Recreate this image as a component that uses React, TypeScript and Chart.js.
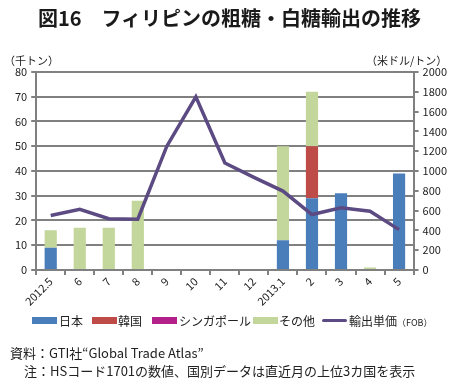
import React, { useEffect, useRef } from "react";
import { Chart, registerables } from "chart.js";

Chart.register(...registerables);

const categories = ["2012.5", "6", "7", "8", "9", "10", "11", "12", "2013.1", "2", "3", "4", "5"];
const japan = [9, 0, 0, 0, 0, 0, 0, 0, 12, 29, 31, 0, 39];
const korea = [0, 0, 0, 0, 0, 0, 0, 0, 0, 21, 0, 0, 0];
const singapore = [0, 0, 0, 0, 0, 0, 0, 0, 0, 0, 0, 0, 0];
const others = [7, 17, 17, 28, 0, 0, 0, 0, 38, 22, 0, 1, 0];
const unitPrice = [550, 612, 518, 512, 1250, 1750, 1080, 935, 797, 560, 627, 593, 407];

const FONT = "'Noto Sans CJK JP', 'Noto Sans', sans-serif";

const legendItems = [
  { label: "日本", color: "#4A7EBB", type: "box", x: 32, tx: 59 },
  { label: "韓国", color: "#BE4B48", type: "box", x: 92, tx: 118 },
  { label: "シンガポール", color: "#B3208A", type: "box", x: 152, tx: 179 },
  { label: "その他", color: "#C3D69B", type: "box", x: 253, tx: 279 },
  { label: "輸出単価", color: "#5C4A82", type: "line", x: 322, tx: 349 },
];

export default function App() {
  const ref = useRef<HTMLCanvasElement>(null);
  useEffect(() => {
    document.body.style.margin = "0";
    const chart = new Chart(ref.current!, {
      type: "bar",
      data: {
        labels: categories,
        datasets: [
          { type: "line", label: "輸出単価(FOB)", data: unitPrice, yAxisID: "y1", borderColor: "#5C4A82", borderWidth: 3.5, pointRadius: 0, order: 0, tension: 0 } as any,
          { label: "日本", data: japan, backgroundColor: "#4A7EBB", yAxisID: "y", order: 1 },
          { label: "韓国", data: korea, backgroundColor: "#BE4B48", yAxisID: "y", order: 1 },
          { label: "シンガポール", data: singapore, backgroundColor: "#B3208A", yAxisID: "y", order: 1 },
          { label: "その他", data: others, backgroundColor: "#C3D69B", yAxisID: "y", order: 1 },
        ],
      },
      options: {
        animation: false,
        responsive: false,
        maintainAspectRatio: false,
        datasets: { bar: { barPercentage: 0.42, categoryPercentage: 1 } } as any,
        layout: { padding: { top: 72, left: 11, right: 8, bottom: 77 } },
        plugins: { legend: { display: false }, tooltip: { enabled: false } },
        scales: {
          x: {
            stacked: true,
            grid: { offset: true, drawOnChartArea: false, color: "#808080", lineWidth: 2, tickLength: 5 },
            border: { color: "#808080", width: 2 },
            ticks: { minRotation: 45, maxRotation: 45, color: "#222", font: { family: FONT, size: 11 }, padding: 0 },
          },
          y: {
            stacked: true,
            min: 0,
            max: 80,
            ticks: { stepSize: 10, color: "#222", font: { family: FONT, size: 11 }, padding: 4, callback: (v: any) => String(v) },
            grid: { color: "#808080", lineWidth: 2, tickLength: 5 },
            border: { color: "#808080", width: 2 },
          },
          y1: {
            position: "right",
            min: 0,
            max: 2000,
            ticks: { stepSize: 200, color: "#222", font: { family: FONT, size: 11 }, padding: 4, callback: (v: any) => String(v) },
            grid: { drawOnChartArea: false, color: "#808080", lineWidth: 2, tickLength: 5 },
            border: { color: "#808080", width: 2 },
          },
        },
      },
    });
    return () => chart.destroy();
  }, []);

  const txt: React.CSSProperties = { position: "absolute", fontFamily: FONT, color: "#222", whiteSpace: "nowrap" };
  return (
    <div style={{ position: "relative", width: 459, height: 385, background: "#fff", overflow: "hidden" }}>
      <canvas ref={ref} width={459} height={385} style={{ position: "absolute", left: 0, top: 0 }} />
      <div style={{ ...txt, left: 0, width: 459, textAlign: "center", top: 3, fontSize: 20, fontWeight: 700, color: "#1a1a1a" }}>図16　フィリピンの粗糖・白糖輸出の推移</div>
      <div style={{ ...txt, left: 4, top: 52, fontSize: 11 }}>（千トン）</div>
      <div style={{ ...txt, left: 366, top: 52, fontSize: 11 }}>（米ドル/トン）</div>
      {legendItems.map((it) => (
        <React.Fragment key={it.label}>
          <div style={{ position: "absolute", left: it.x, top: it.type === "box" ? 317 : 319, width: 25, height: it.type === "box" ? 7 : 3, background: it.color, borderRadius: it.type === "line" ? 2 : 0 }} />
          <div style={{ ...txt, left: it.tx, top: 312, fontSize: 12 }}>
            {it.label}
            {it.type === "line" ? <span style={{ fontSize: 9 }}>（FOB）</span> : null}
          </div>
        </React.Fragment>
      ))}
      <div style={{ ...txt, left: 10, top: 343, fontSize: 13 }}>資料：GTI社“Global Trade Atlas”</div>
      <div style={{ ...txt, left: 24, top: 361, fontSize: 13 }}>注：HSコード1701の数値、国別データは直近月の上位3カ国を表示</div>
    </div>
  );
}
